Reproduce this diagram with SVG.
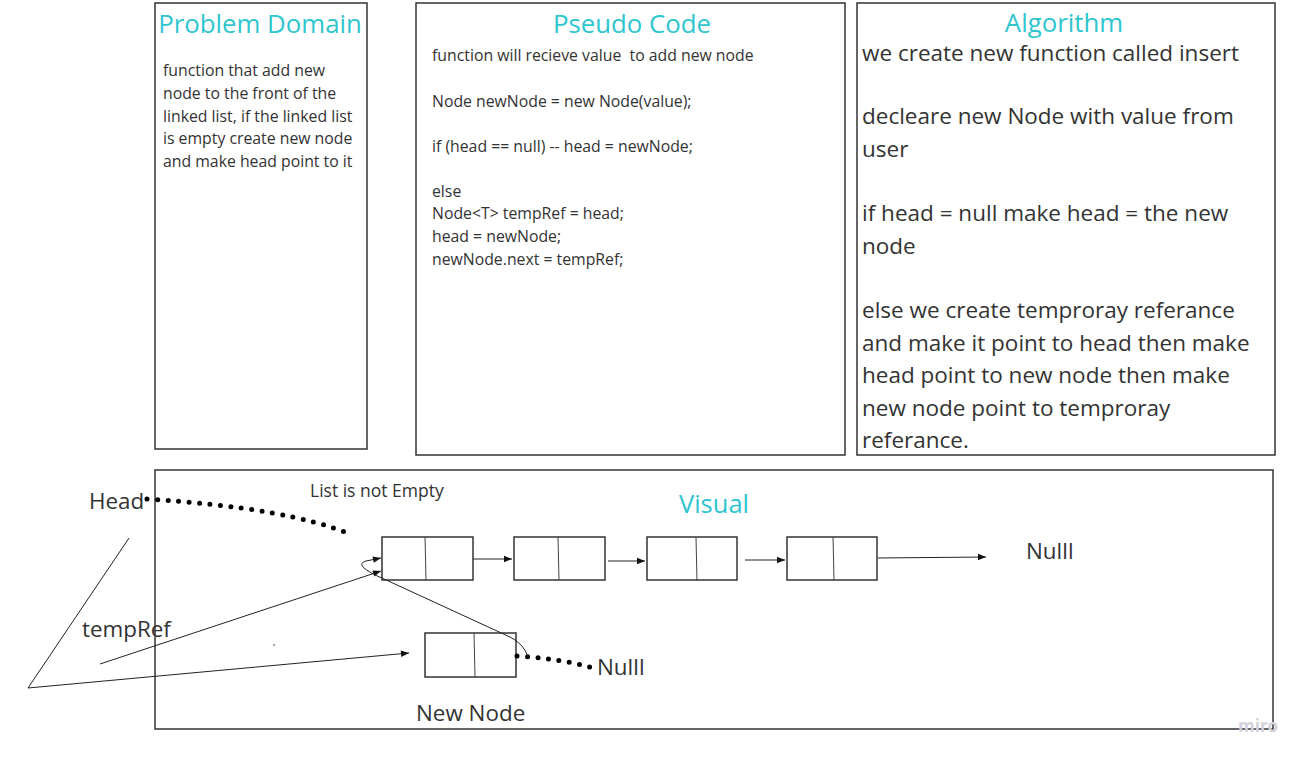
<svg xmlns="http://www.w3.org/2000/svg" width="1310" height="762" viewBox="0 0 1310 762">
<style>
text{font-family:"Open Sans","Noto Sans","Liberation Sans",sans-serif;fill:#333;white-space:pre;}
.title{fill:#2ec5cf;font-size:25.8px;text-anchor:middle;}
.box{fill:#fff;stroke:#333;stroke-width:1.5;}
.node{fill:none;stroke:#333;stroke-width:1.5;}
.div{stroke:#444;stroke-width:1;}
.pd{font-size:15.8px;}
.pc{font-size:15.8px;}
.al{font-size:22.5px;}
.lbl{font-size:22.4px;}
.ln{fill:none;stroke:#222;stroke-width:1;}
.dots{fill:none;stroke:#000;stroke-width:5;stroke-linecap:round;stroke-dasharray:0 10.5;}
</style>
<defs>
<marker id="arr" viewBox="0 0 10 10" refX="10" refY="5" markerWidth="12" markerHeight="8" markerUnits="userSpaceOnUse" orient="auto">
<path d="M0,1 L10,5 L0,9 Z" fill="#111"/>
</marker>
</defs>
<rect width="1310" height="762" fill="#fff"/>

<g id="problem-domain">
<rect class="box" x="155" y="3" width="212" height="446"/>
<text class="title" x="260" y="33">Problem Domain</text>
<text class="pd" x="163" y="76">function that add new</text>
<text class="pd" x="163" y="99">node to the front of the</text>
<text class="pd" x="163" y="122">linked list, if the linked list</text>
<text class="pd" x="163" y="144">is empty create new node</text>
<text class="pd" x="163" y="167">and make head point to it</text>
</g>

<g id="pseudo-code">
<rect class="box" x="416" y="3" width="429" height="452"/>
<text class="title" x="632" y="33">Pseudo Code</text>
<text class="pc" x="432" y="61" xml:space="preserve">function will recieve value  to add new node</text>
<text class="pc" x="432" y="107">Node newNode = new Node(value);</text>
<text class="pc" x="432" y="152">if (head == null) -- head = newNode;</text>
<text class="pc" x="432" y="197">else</text>
<text class="pc" x="432" y="219">Node&lt;T&gt; tempRef = head;</text>
<text class="pc" x="432" y="242">head = newNode;</text>
<text class="pc" x="432" y="265">newNode.next = tempRef;</text>
</g>

<g id="algorithm">
<rect class="box" x="857" y="3" width="418" height="452"/>
<text class="title" x="1064" y="32">Algorithm</text>
<text class="al" x="862" y="61">we create new function called insert</text>
<text class="al" x="862" y="124">decleare new Node with value from</text>
<text class="al" x="862" y="157">user</text>
<text class="al" x="862" y="221">if head = null make head = the new</text>
<text class="al" x="862" y="254">node</text>
<text class="al" x="862" y="318">else we create temproray referance</text>
<text class="al" x="862" y="351">and make it point to head then make</text>
<text class="al" x="862" y="383">head point to new node then make</text>
<text class="al" x="862" y="416">new node point to temproray</text>
<text class="al" x="862" y="448">referance.</text>
</g>

<g id="visual">
<rect class="box" x="155" y="470" width="1118" height="259"/>
<text class="title" x="714" y="513" style="font-size:25.5px">Visual</text>
<text x="310" y="497" style="font-size:17.5px">List is not Empty</text>
</g>

<g id="node1"><rect class="node" x="382" y="537" width="91" height="43"/><line class="div" x1="425" y1="537" x2="426" y2="580"/></g>
<g id="node2"><rect class="node" x="514" y="537" width="91" height="43"/><line class="div" x1="558" y1="537" x2="559" y2="580"/></g>
<g id="node3"><rect class="node" x="647" y="537" width="90" height="43"/><line class="div" x1="696" y1="537" x2="697" y2="581"/></g>
<g id="node4"><rect class="node" x="787" y="537" width="90" height="43"/><line class="div" x1="833" y1="537" x2="834" y2="580"/></g>
<g id="new-node"><rect class="node" x="425" y="633" width="91" height="44"/><line class="div" x1="474" y1="633" x2="475" y2="677"/>
<text class="lbl" x="416" y="721">New Node</text></g>

<g id="head-label"><text class="lbl" x="89" y="509">Head</text></g>
<g id="tempref-label"><text class="lbl" x="82" y="637">tempRef</text></g>
<g id="null-1"><text class="lbl" x="1026" y="559">Nulll</text></g>
<g id="null-2"><text class="lbl" x="597" y="675">Nulll</text></g>

<g id="connectors">
<line class="ln" x1="473" y1="559" x2="512" y2="559" marker-end="url(#arr)"/>
<line class="ln" x1="608" y1="561" x2="645" y2="561" marker-end="url(#arr)"/>
<line class="ln" x1="745" y1="560" x2="785" y2="560" marker-end="url(#arr)"/>
<line class="ln" x1="878" y1="558" x2="986" y2="557" marker-end="url(#arr)"/>
<path class="dots" d="M147 499 Q 290 508 352 535"/>
<path class="dots" d="M517 656 Q 555 658 590 667"/>
<polyline class="ln" points="129,538 28,688 409,653" marker-end="url(#arr)"/>
<line class="ln" x1="100" y1="664" x2="381" y2="571" marker-end="url(#arr)"/>
<path class="ln" d="M528 657 Q 524 644 510 637 L 384 579 Q 352 565 366 561 L 381 558" marker-end="url(#arr)"/>
<circle cx="274" cy="645" r="0.8" fill="#333"/>
</g>
<text x="1238" y="732" style="font-size:17px;fill:#d2d2dc;font-weight:bold">miro</text>
</svg>
